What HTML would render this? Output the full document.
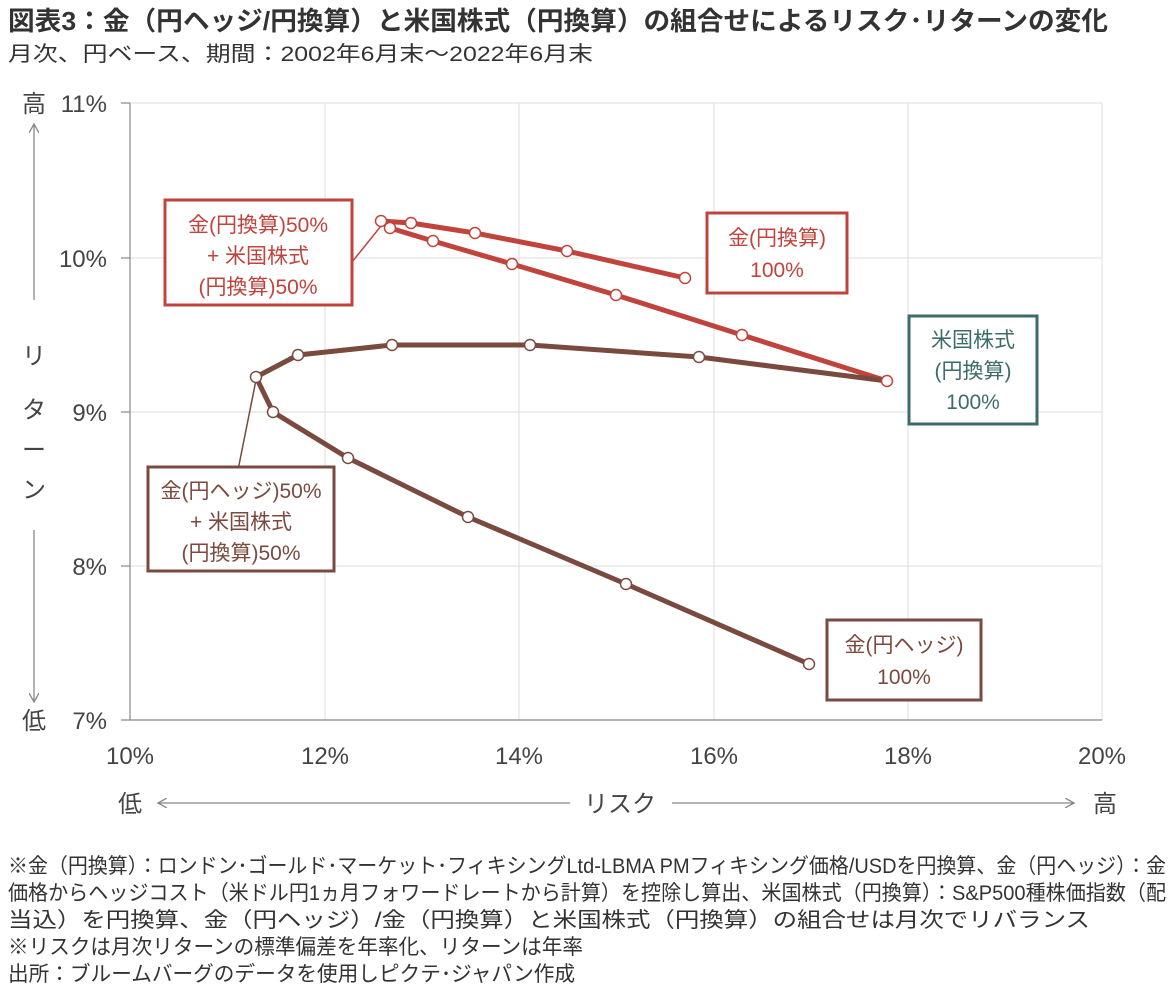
<!DOCTYPE html>
<html><head><meta charset="utf-8"><style>
html,body{margin:0;padding:0;background:#fff}
svg text{font-family:"Liberation Sans","Noto Sans CJK JP",sans-serif}
</style></head><body>
<svg width="1172" height="990" viewBox="0 0 1172 990" xmlns="http://www.w3.org/2000/svg">
<defs>
<marker id="ah" markerWidth="10" markerHeight="10" refX="9" refY="5" orient="auto" markerUnits="userSpaceOnUse">
<path d="M0,0 L9,5 L0,10" fill="none" stroke="#888" stroke-width="1.3"/></marker>
</defs>
<text x="8" y="30" font-size="26" font-weight="bold" fill="#333" textLength="1100" lengthAdjust="spacingAndGlyphs">図表3：金（円ヘッジ/円換算）と米国株式（円換算）の組合せによるリスク･リターンの変化</text>
<text x="8" y="61" font-size="21" fill="#333" textLength="585" lengthAdjust="spacingAndGlyphs">月次、円ベース、期間：2002年6月末～2022年6月末</text>
<!-- grid -->
<g stroke="#ddd" stroke-width="1">
<line x1="130" y1="103" x2="1102" y2="103"/><line x1="130" y1="258" x2="1102" y2="258"/>
<line x1="130" y1="412" x2="1102" y2="412"/><line x1="130" y1="566" x2="1102" y2="566"/>
<line x1="325" y1="103" x2="325" y2="720"/><line x1="519" y1="103" x2="519" y2="720"/>
<line x1="714" y1="103" x2="714" y2="720"/><line x1="908" y1="103" x2="908" y2="720"/>
<line x1="1102" y1="103" x2="1102" y2="720"/>
</g>
<g stroke="#888" stroke-width="1.2">
<line x1="130" y1="103" x2="130" y2="720"/><line x1="130" y1="720" x2="1102" y2="720"/>
<line x1="121" y1="103" x2="130" y2="103"/><line x1="121" y1="258" x2="130" y2="258"/>
<line x1="121" y1="412" x2="130" y2="412"/><line x1="121" y1="566" x2="130" y2="566"/>
<line x1="121" y1="720" x2="130" y2="720"/>
</g>
<g font-size="24" fill="#444" text-anchor="end">
<text x="107" y="112">11%</text><text x="107" y="267">10%</text><text x="107" y="421">9%</text>
<text x="107" y="575">8%</text><text x="107" y="729">7%</text></g>
<g font-size="24" fill="#444" text-anchor="middle">
<text x="34" y="112">高</text><text x="34" y="729">低</text>
<text x="130" y="764">10%</text><text x="325" y="764">12%</text><text x="519" y="764">14%</text>
<text x="714" y="764">16%</text><text x="908" y="764">18%</text><text x="1102" y="764">20%</text>
<text x="34" y="364">リ</text><text x="34" y="418">タ</text><text x="34" y="458">ー</text><text x="34" y="498">ン</text>
<text x="130" y="812">低</text><text x="620" y="812">リスク</text><text x="1105" y="812">高</text>
</g>
<g stroke="#888" stroke-width="1.3" fill="none">
<line x1="34" y1="300" x2="34" y2="124" marker-end="url(#ah)"/>
<line x1="34" y1="530" x2="34" y2="702" marker-end="url(#ah)"/>
<line x1="570" y1="803" x2="158" y2="803" marker-end="url(#ah)"/>
<line x1="672" y1="803" x2="1074" y2="803" marker-end="url(#ah)"/>
</g>
<!-- leaders -->
<line x1="352" y1="262" x2="381" y2="226" stroke="#c0443c" stroke-width="1.5"/>
<line x1="238" y1="470" x2="256" y2="380" stroke="#7a4a3f" stroke-width="1.5"/>
<!-- series -->
<g fill="none" stroke-width="5" stroke-linejoin="round">
<polyline stroke="#c0443c" points="381,221 411,223 475,233 567,251 685,278"/>
<polyline stroke="#c0443c" points="390,228 433,241 512,264 616,295 742,335 887,381"/>
<polyline stroke="#7a4a3f" points="256,377 298,355 392,345 530,345 699,357 887,381"/>
<polyline stroke="#7a4a3f" points="256,377 273,412 348,458 468,517 626,584 809,664"/>
</g>
<g fill="#fff" stroke-width="1.5">
<g stroke="#c0443c">
<circle cx="381" cy="221" r="5.5"/><circle cx="411" cy="223" r="5.5"/><circle cx="475" cy="233" r="5.5"/><circle cx="567" cy="251" r="5.5"/><circle cx="685" cy="278" r="5.5"/>
<circle cx="390" cy="228" r="5.5"/><circle cx="433" cy="241" r="5.5"/><circle cx="512" cy="264" r="5.5"/><circle cx="616" cy="295" r="5.5"/><circle cx="742" cy="335" r="5.5"/><circle cx="887" cy="381" r="5.5"/>
</g>
<g stroke="#7a4a3f">
<circle cx="256" cy="377" r="5.5"/><circle cx="298" cy="355" r="5.5"/><circle cx="392" cy="345" r="5.5"/><circle cx="530" cy="345" r="5.5"/><circle cx="699" cy="357" r="5.5"/>
<circle cx="273" cy="412" r="5.5"/><circle cx="348" cy="458" r="5.5"/><circle cx="468" cy="517" r="5.5"/><circle cx="626" cy="584" r="5.5"/><circle cx="809" cy="664" r="5.5"/>
</g>
</g>
<!-- boxes -->
<g fill="#fff" stroke-width="3">
<rect x="165" y="200" width="187" height="105" stroke="#c0443c"/>
<rect x="707" y="213" width="140" height="80" stroke="#c0443c"/>
<rect x="909" y="316" width="128" height="108" stroke="#3d6b6b"/>
<rect x="148" y="467" width="186" height="104" stroke="#7a4a3f"/>
<rect x="827" y="620" width="154" height="80" stroke="#7a4a3f"/>
</g>
<g font-size="21" text-anchor="middle">
<g fill="#c0443c">
<text x="258" y="232">金(円換算)50%</text><text x="258" y="263">+ 米国株式</text><text x="258" y="294">(円換算)50%</text>
<text x="777" y="245">金(円換算)</text><text x="777" y="277">100%</text></g>
<g fill="#3d6b6b">
<text x="973" y="347">米国株式</text><text x="973" y="378">(円換算)</text><text x="973" y="409">100%</text></g>
<g fill="#7a4a3f">
<text x="241" y="498">金(円ヘッジ)50%</text><text x="241" y="529">+ 米国株式</text><text x="241" y="560">(円換算)50%</text>
<text x="904" y="652">金(円ヘッジ)</text><text x="904" y="684">100%</text></g>
</g>
<g font-size="21" fill="#333" lengthAdjust="spacingAndGlyphs">
<text x="8" y="873" textLength="1158" lengthAdjust="spacingAndGlyphs">※金（円換算）：ロンドン･ゴールド･マーケット･フィキシングLtd-LBMA PMフィキシング価格/USDを円換算、金（円ヘッジ）：金</text>
<text x="8" y="900" textLength="1158" lengthAdjust="spacingAndGlyphs">価格からヘッジコスト（米ドル円1ヵ月フォワードレートから計算）を控除し算出、米国株式（円換算）：S&amp;P500種株価指数（配</text>
<text x="8" y="927" textLength="1082" lengthAdjust="spacingAndGlyphs">当込）を円換算、金（円ヘッジ）/金（円換算）と米国株式（円換算）の組合せは月次でリバランス</text>
<text x="8" y="954" textLength="575" lengthAdjust="spacingAndGlyphs">※リスクは月次リターンの標準偏差を年率化、リターンは年率</text>
<text x="8" y="981" textLength="567" lengthAdjust="spacingAndGlyphs">出所：ブルームバーグのデータを使用しピクテ･ジャパン作成</text>
</g>
</svg>
</body></html>
